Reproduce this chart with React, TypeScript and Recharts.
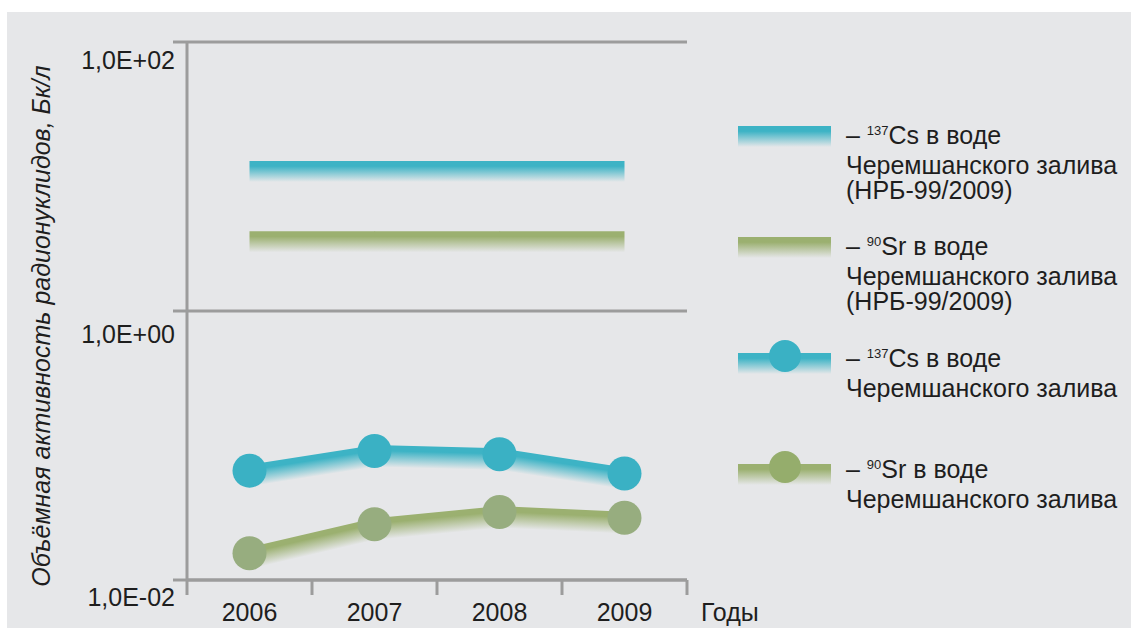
import React from 'react';
import { LineChart, Line, XAxis, YAxis, CartesianGrid } from 'recharts';

// ---- data ----
const years = [2006, 2007, 2008, 2009];
const cs137 = [0.065, 0.091, 0.086, 0.062];
const sr90 = [0.0158, 0.026, 0.032, 0.029];
const cs137Norm = [11, 11, 11, 11];
const sr90Norm = [3.3, 3.3, 3.3, 3.3];
const yTicks = [0.01, 1, 100];
const yTickLabels = ['1,0E-02', '1,0E+00', '1,0E+02'];
const xBoundaries = [2005.5, 2006.5, 2007.5, 2008.5, 2009.5];
const yAxisTitle = 'Объёмная активность радионуклидов, Бк/л';
const xAxisTitle = 'Годы';
const legendItems = [
  { sup: '137', el: 'Cs', lines: ['Черемшанского залива', '(НРБ-99/2009)'], kind: 'norm', color: 'cs' },
  { sup: '90', el: 'Sr', lines: ['Черемшанского залива', '(НРБ-99/2009)'], kind: 'norm', color: 'sr' },
  { sup: '137', el: 'Cs', lines: ['Черемшанского залива'], kind: 'meas', color: 'cs' },
  { sup: '90', el: 'Sr', lines: ['Черемшанского залива'], kind: 'meas', color: 'sr' },
];

const data = years.map((year, i) => ({
  year,
  cs: cs137[i],
  sr: sr90[i],
  csNorm: cs137Norm[i],
  srNorm: sr90Norm[i],
}));

// ---- styles ----
const BG = '#e6e7e9';
const AXIS = '#9c9c9c';
const TEXT = '#1e1e1e';
const FONT = '"Liberation Sans", Arial, Helvetica, sans-serif';
const CS = '#3db3c5';
const SR = '#9bb070';
const CS_MARK = '#3ab1c4';
const SR_MARK = '#97ad7f';
const SR_MARK_LEG = '#95ad6c';
const FS = 25;
const yTickDy: Record<string, number> = { '0.01': 26, '1': 32, '100': 27 };

const makeBandDot = (id: string, color: string, markColor: string, top: number, bottom: number, r: number) =>
  (props: any) => {
    const { index, points, cx, cy } = props;
    const parts: any[] = [];
    if (index === 0 && points && points.length > 1) {
      for (let i = 0; i < points.length - 1; i++) {
        const p0 = points[i];
        const p1 = points[i + 1];
        const k = (p1.y - p0.y) / (p1.x - p0.x);
        const gid = `${id}-g${i}`;
        const ext = i < points.length - 2 ? 0.6 : 0;
        parts.push(
          <linearGradient
            key={gid}
            id={gid}
            gradientUnits="userSpaceOnUse"
            x1={p0.x}
            x2={p0.x}
            y1={p0.y + top}
            y2={p0.y + bottom}
            gradientTransform={`matrix(1 ${k} 0 1 0 ${-k * p0.x})`}
          >
            <stop offset="0" stopColor={color} />
            <stop offset="0.25" stopColor={color} />
            <stop offset="1" stopColor={BG} />
          </linearGradient>
        );
        const x2 = p1.x + ext;
        const y2 = p1.y + k * ext;
        parts.push(
          <polygon
            key={gid + 'p'}
            points={`${p0.x},${p0.y + top} ${x2},${y2 + top} ${x2},${y2 + bottom} ${p0.x},${p0.y + bottom}`}
            fill={`url(#${gid})`}
          />
        );
      }
    }
    if (r > 0) parts.push(<circle key="c" cx={cx} cy={cy} r={r} fill={markColor} />);
    return <g key={`${id}-${index}`}>{parts}</g>;
  };

const csNormDot = makeBandDot('csn', CS, CS, -10, 11, 0);
const srNormDot = makeBandDot('srn', SR, SR, -10, 11, 0);
const csDot = makeBandDot('cs', CS, CS_MARK, -6, 16, 17);
const srDot = makeBandDot('sr', SR, SR_MARK, -6, 16, 17);

const YTick = (props: any) => {
  const { x, payload } = props;
  const v = payload.value;
  const idx = yTicks.indexOf(v);
  return (
    <text x={x + 2} y={payload.coordinate + (yTickDy[String(v)] ?? 27)} textAnchor="end" fill={TEXT} fontSize={FS} fontFamily={FONT}>
      {yTickLabels[idx]}
    </text>
  );
};

const XTick = (props: any) => {
  const { x, y, payload } = props;
  return (
    <text x={x} y={y + 40} textAnchor="middle" fill={TEXT} fontSize={FS} fontFamily={FONT}>
      {payload.value}
    </text>
  );
};

const EmptyTick = () => <g />;

const grad = (c: string) => `linear-gradient(to bottom, ${c} 0%, ${c} 25%, ${BG} 100%)`;

const Legend = () => {
  const firstCenters = [136, 247, 359, 470];
  const pitch = 25.7;
  return (
    <>
      {legendItems.map((it, i) => {
        const c = firstCenters[i];
        const col = it.color === 'cs' ? CS : SR;
        const mark = it.color === 'cs' ? CS_MARK : SR_MARK_LEG;
        return (
          <React.Fragment key={i}>
            <div style={{ position: 'absolute', left: 738, top: c - 10 + (it.kind === 'meas' ? 4 : 0), width: 93, height: 21, background: grad(col) }} />
            {it.kind === 'meas' && (
              <div style={{ position: 'absolute', left: 769, top: c - 3 - 16, width: 32, height: 32, borderRadius: '50%', background: mark }} />
            )}
            <div style={{ position: 'absolute', left: 846, top: c - 13, fontFamily: FONT, fontSize: FS, lineHeight: `${pitch}px`, color: TEXT, whiteSpace: 'nowrap' }}>
              <div>
                – <span style={{ fontSize: 13, position: 'relative', top: -9 }}>{it.sup}</span>{it.el} в воде
              </div>
              {it.lines.map((l, j) => (
                <div key={j}>{l}</div>
              ))}
            </div>
          </React.Fragment>
        );
      })}
    </>
  );
};

export default function App() {
  return (
    <div style={{ position: 'fixed', left: 0, top: 0, width: 1131, height: 628, background: '#ffffff', overflow: 'hidden' }}>
      <div style={{ position: 'absolute', left: 7, top: 12, width: 1124, height: 616, background: BG }} />
      <div style={{ position: 'absolute', left: 0, top: 0 }}>
        <LineChart width={1131} height={628} data={data} margin={{ top: 42, right: 444, bottom: 46, left: 186 }}>
          <CartesianGrid horizontal vertical={false} stroke={AXIS} strokeWidth={3} strokeDasharray="" />
          <XAxis
            xAxisId="grid"
            type="number"
            dataKey="year"
            domain={[2005.5, 2009.5]}
            ticks={xBoundaries}
            allowDataOverflow
            height={1}
            tick={<EmptyTick />}
            tickSize={15}
            axisLine={{ stroke: AXIS, strokeWidth: 3 }}
            tickLine={{ stroke: AXIS, strokeWidth: 3 }}
            interval={0}
          />
          <XAxis
            xAxisId="lbl"
            type="number"
            dataKey="year"
            domain={[2005.5, 2009.5]}
            ticks={years}
            allowDataOverflow
            height={1}
            axisLine={false}
            tickLine={false}
            tickSize={0}
            tickMargin={0}
            tick={<XTick />}
            interval={0}
          />
          <YAxis
            type="number"
            scale="log"
            domain={[0.01, 100]}
            ticks={yTicks}
            allowDataOverflow
            width={1}
            tickSize={14}
            tickMargin={0}
            axisLine={{ stroke: AXIS, strokeWidth: 3 }}
            tickLine={{ stroke: AXIS, strokeWidth: 3 }}
            tick={<YTick />}
            interval={0}
          />
          <Line xAxisId="lbl" dataKey="csNorm" stroke="none" dot={csNormDot} activeDot={false} isAnimationActive={false} />
          <Line xAxisId="lbl" dataKey="srNorm" stroke="none" dot={srNormDot} activeDot={false} isAnimationActive={false} />
          <Line xAxisId="lbl" dataKey="cs" stroke="none" dot={csDot} activeDot={false} isAnimationActive={false} />
          <Line xAxisId="lbl" dataKey="sr" stroke="none" dot={srDot} activeDot={false} isAnimationActive={false} />
        </LineChart>
      </div>
      <div
        style={{
          position: 'absolute',
          left: 41,
          top: 326,
          transform: 'translate(-50%, -50%) rotate(-90deg)',
          fontFamily: FONT,
          fontStyle: 'italic',
          fontSize: FS,
          color: TEXT,
          whiteSpace: 'nowrap',
          lineHeight: '26px',
        }}
      >
        {yAxisTitle}
      </div>
      <div style={{ position: 'absolute', left: 701, top: 599, fontFamily: FONT, fontSize: FS, color: TEXT, lineHeight: '26px' }}>{xAxisTitle}</div>
      <Legend />
    </div>
  );
}
